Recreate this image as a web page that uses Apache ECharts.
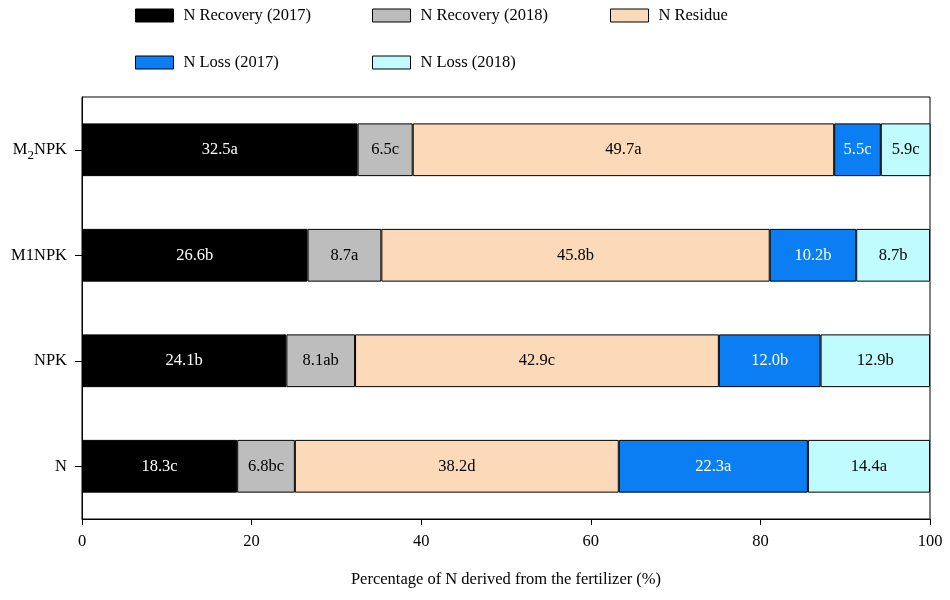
<!DOCTYPE html>
<html>
<head>
<meta charset="utf-8">
<script src="https://cdn.jsdelivr.net/npm/echarts@6/dist/echarts.min.js"></script>
<style>html,body{margin:0;padding:0;background:#fff;}#c{width:950px;height:600px;}</style>
</head>
<body>
<div id="c"></div>
<script>
var categories = ['N', 'NPK', 'M1NPK', 'M2NPK'];
var categoryLabels = ['N', 'NPK', 'M1NPK', 'M{sub|2}NPK'];
var seriesNames = ['N Recovery (2017)', 'N Recovery (2018)', 'N Residue', 'N Loss (2017)', 'N Loss (2018)'];
var recovery2017 = [18.3, 24.1, 26.6, 32.5];
var recovery2018 = [6.8, 8.1, 8.7, 6.5];
var residue = [38.2, 42.9, 45.8, 49.7];
var loss2017 = [22.3, 12.0, 10.2, 5.5];
var loss2018 = [14.4, 12.9, 8.7, 5.9];
var recovery2017Letters = ['c', 'b', 'b', 'a'];
var recovery2018Letters = ['bc', 'ab', 'a', 'c'];
var residueLetters = ['d', 'c', 'b', 'a'];
var loss2017Letters = ['a', 'b', 'b', 'c'];
var loss2018Letters = ['a', 'b', 'b', 'c'];
var xTicks = [0, 20, 40, 60, 80, 100];

var values = [recovery2017, recovery2018, residue, loss2017, loss2018];
var letters = [recovery2017Letters, recovery2018Letters, residueLetters, loss2017Letters, loss2018Letters];
var colors = ['#000000', '#bdbdbd', '#fcd9b8', '#0a7ef2', '#c0fbff'];
var labelColors = ['#ffffff', '#000000', '#000000', '#ffffff', '#000000'];
var font = 'Liberation Serif, Times New Roman, serif';
var fs = 16.5;

var series = values.map(function (v, i) {
  return {
    name: seriesNames[i],
    type: 'bar',
    stack: 'total',
    barWidth: '50%',
    data: v,
    itemStyle: { color: colors[i], borderColor: '#000', borderWidth: 1 },
    label: {
      show: true,
      position: 'inside',
      color: labelColors[i],
      fontFamily: font,
      fontSize: fs,
      formatter: function (p) { return v[p.dataIndex].toFixed(1) + letters[i][p.dataIndex]; }
    }
  };
});

var legendPos = [[135, 7], [372, 7], [610, 7], [135, 54], [372, 54]];
var legends = seriesNames.map(function (n, i) {
  return {
    data: [n],
    left: legendPos[i][0],
    top: legendPos[i][1],
    padding: 0,
    itemWidth: 38,
    itemHeight: 13,
    itemGap: 10,
    icon: 'rect',
    selectedMode: false,
    textStyle: { fontFamily: font, fontSize: fs, color: '#000', padding: [0, 0, 0, 5] },
    itemStyle: { borderColor: '#000', borderWidth: 1 }
  };
});

var chart = echarts.init(document.getElementById('c'));
chart.setOption({
  backgroundColor: '#ffffff',
  animation: false,
  legend: legends,
  grid: { left: 82, right: 20, top: 97, bottom: 81, show: true, borderColor: '#000', borderWidth: 1 },
  xAxis: {
    type: 'value',
    min: 0,
    max: 100,
    interval: 20,
    name: 'Percentage of N derived from the fertilizer (%)',
    nameLocation: 'middle',
    nameGap: 52,
    nameTextStyle: { fontFamily: font, fontSize: fs, color: '#000' },
    axisLine: { show: true, lineStyle: { color: '#000' } },
    axisTick: { show: true, length: 6, lineStyle: { color: '#000' } },
    axisLabel: { fontFamily: font, fontSize: fs, color: '#000', margin: 14 },
    splitLine: { show: false }
  },
  yAxis: {
    type: 'category',
    data: categories,
    axisLine: { show: true, lineStyle: { color: '#000' } },
    axisTick: { show: true, alignWithLabel: true, length: 7, lineStyle: { color: '#000' } },
    axisLabel: {
      fontFamily: font, fontSize: fs, color: '#000', margin: 15,
      formatter: function (val, idx) { return categoryLabels[idx]; },
      rich: { sub: { fontFamily: font, fontSize: 13, padding: [12, 0, 0, 0], color: '#000' } }
    }
  },
  series: series
});
</script>
</body>
</html>
